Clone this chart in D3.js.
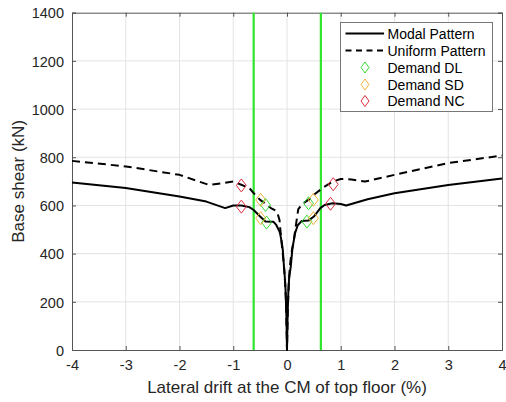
<!DOCTYPE html>
<html>
<head>
<meta charset="utf-8">
<script src="https://cdn.jsdelivr.net/npm/d3@7"></script>
<style>
  html, body { margin: 0; padding: 0; background: #fff; }
  svg { display: block; font-family: "Liberation Sans", Arial, sans-serif; }
</style>
</head>
<body>
<svg id="chart" width="506" height="402"></svg>
<script>
// Pushover curves: lateral drift at the top-floor CM (%) vs. base shear (kN)
const modalDrift = [-4, -3, -2, -1.5, -1.15, -1, -0.85, -0.7, -0.62, -0.5, -0.4, -0.25, -0.2, -0.15, -0.13, -0.1, -0.08, -0.056, -0.04, -0.025, -0.012, 0,
                    0.012, 0.025, 0.04, 0.07, 0.1, 0.15, 0.2, 0.27, 0.4, 0.5, 0.62, 0.7, 0.85, 1.0, 1.1, 1.5, 2, 3, 4];
const modalShear = [695, 672, 637, 616, 589, 600, 600, 593, 581, 554, 533, 532, 519, 497, 485, 450, 420, 346, 300, 240, 150, 0,
                    150, 240, 300, 346, 420, 485, 518, 535, 537, 554, 589, 602, 609, 606, 600, 626, 651, 685, 712];

const uniformDrift = [-4, -3, -2, -1.45, -1, -0.85, -0.7, -0.62, -0.5, -0.4, -0.3, -0.2, -0.18, -0.14, -0.1, -0.07, -0.05, -0.03, -0.015, 0,
                      0.015, 0.03, 0.05, 0.08, 0.13, 0.18, 0.21, 0.3, 0.4, 0.5, 0.62, 0.7, 0.85, 1, 1.2, 1.45, 2, 3, 4];
const uniformShear = [785, 762, 727, 685, 699, 686, 672, 651, 623, 607, 589, 577, 570, 540, 444, 380, 330, 260, 170, 0,
                      170, 260, 340, 400, 460, 540, 585, 609, 623, 644, 665, 678, 699, 710, 708, 699, 727, 776, 807];

// Demand points for each limit state (both loading directions, both patterns)
const demandDL = [[-0.40, 602], [-0.38, 529], [0.40, 609], [0.37, 533]];
const demandSD = [[-0.49, 623], [-0.49, 547], [0.49, 623], [0.49, 547]];
const demandNC = [[-0.85, 683], [-0.85, 595], [0.86, 688], [0.81, 607]];

// Vertical reference drift limits
const driftLimits = [-0.62, 0.63];

const xTicks = [-4, -3, -2, -1, 0, 1, 2, 3, 4];
const yTicks = [0, 200, 400, 600, 800, 1000, 1200, 1400];

const legendLabels = ["Modal Pattern", "Uniform Pattern", "Demand DL", "Demand SD", "Demand NC"];

const svg = d3.select("#chart");
const m = { left: 72, right: 502, top: 12.7, bottom: 350 };

const x = d3.scaleLinear().domain([-4, 4]).range([m.left, m.right]);
const y = d3.scaleLinear().domain([0, 1400]).range([m.bottom, m.top]);

// Grid
const grid = svg.append("g").attr("stroke", "#e3e3e3").attr("stroke-width", 1);
grid.selectAll("line.gx").data(xTicks.slice(1, -1)).join("line")
  .attr("x1", d => x(d)).attr("x2", d => x(d)).attr("y1", m.top).attr("y2", m.bottom);
grid.selectAll("line.gy").data(yTicks.slice(1, -1)).join("line")
  .attr("y1", d => y(d)).attr("y2", d => y(d)).attr("x1", m.left).attr("x2", m.right);

// Axes with inward ticks; plain hyphen for negatives
const fmt = d => String(d);
const axisColor = "#555";
const gx = svg.append("g").attr("transform", `translate(0,${m.bottom})`)
  .call(d3.axisBottom(x).tickValues(xTicks).tickSize(-4).tickPadding(10).tickFormat(fmt));
const gxTop = svg.append("g").attr("transform", `translate(0,${m.top})`)
  .call(d3.axisTop(x).tickValues(xTicks).tickSize(-4).tickFormat(""));
const gy = svg.append("g").attr("transform", `translate(${m.left},0)`)
  .call(d3.axisLeft(y).tickValues(yTicks).tickSize(-4).tickPadding(8).tickFormat(fmt));
const gyRight = svg.append("g").attr("transform", `translate(${m.right},0)`)
  .call(d3.axisRight(y).tickValues(yTicks).tickSize(-4).tickFormat(""));

[gx, gxTop, gy, gyRight].forEach(g => {
  g.select(".domain").attr("stroke", axisColor);
  g.selectAll(".tick line").attr("stroke", axisColor);
  g.selectAll(".tick text").attr("fill", "#262626").attr("font-size", 14.5)
    .attr("font-family", "Liberation Sans, Arial, sans-serif");
});
gy.selectAll(".tick text").attr("dy", "0.36em");

// Drift limit lines
svg.append("g").selectAll("line").data(driftLimits).join("line")
  .attr("x1", d => x(d)).attr("x2", d => x(d)).attr("y1", m.top).attr("y2", m.bottom)
  .attr("stroke", "#2ee52e").attr("stroke-width", 2.2);

// Curves
const line = d3.line().x(d => x(d[0])).y(d => y(d[1]));
const uniformPts = uniformDrift.map((d, i) => [d, uniformShear[i]]);
const modalPts = modalDrift.map((d, i) => [d, modalShear[i]]);

svg.append("path").datum(uniformPts).attr("d", line)
  .attr("fill", "none").attr("stroke", "#000").attr("stroke-width", 2)
  .attr("stroke-dasharray", "8,5").attr("stroke-linejoin", "round");
svg.append("path").datum(modalPts).attr("d", line)
  .attr("fill", "none").attr("stroke", "#000").attr("stroke-width", 2)
  .attr("stroke-linejoin", "round");

// Diamond markers
const diamond = (cx, cy, w, h) => `M${cx},${cy - h}L${cx + w},${cy}L${cx},${cy + h}L${cx - w},${cy}Z`;
const demandSets = [
  { data: demandDL, color: "#33d933" },
  { data: demandSD, color: "#f0b43a" },
  { data: demandNC, color: "#dc2f3c" }
];
demandSets.forEach(s => {
  svg.append("g").selectAll("path").data(s.data).join("path")
    .attr("d", d => diamond(x(d[0]), y(d[1]), 5, 6.5))
    .attr("fill", "none").attr("stroke", s.color).attr("stroke-width", 1);
});

// Axis titles
svg.append("text").attr("x", (m.left + m.right) / 2).attr("y", 392.5)
  .attr("text-anchor", "middle").attr("font-size", 17).attr("fill", "#262626")
  .text("Lateral drift at the CM of top floor (%)");
svg.append("text").attr("transform", `translate(24,${(m.top + m.bottom) / 2}) rotate(-90)`)
  .attr("text-anchor", "middle").attr("font-size", 17).attr("fill", "#262626")
  .text("Base shear (kN)");

// Legend
const lg = svg.append("g");
lg.append("rect").attr("x", 340.5).attr("y", 22.5).attr("width", 152).attr("height", 89)
  .attr("fill", "#fff").attr("stroke", "#777").attr("stroke-width", 1);
const rowY = [33.5, 50.5, 67.5, 84.5, 101];
const legendColors = [null, null, "#33d933", "#f0b43a", "#dc2f3c"];
legendLabels.forEach((lab, i) => {
  const yy = rowY[i];
  if (i === 0) {
    lg.append("line").attr("x1", 345.5).attr("x2", 384).attr("y1", yy).attr("y2", yy)
      .attr("stroke", "#000").attr("stroke-width", 2);
  } else if (i === 1) {
    lg.append("line").attr("x1", 345.5).attr("x2", 384).attr("y1", yy).attr("y2", yy)
      .attr("stroke", "#000").attr("stroke-width", 2).attr("stroke-dasharray", "6,4.5");
  } else {
    lg.append("path").attr("d", diamond(365, yy, 4, 5.5))
      .attr("fill", "none").attr("stroke", legendColors[i]).attr("stroke-width", 1);
  }
  lg.append("text").attr("x", 387.5).attr("y", yy).attr("dy", "0.36em")
    .attr("font-size", 14).attr("fill", "#000").text(lab);
});
</script>
</body>
</html>
